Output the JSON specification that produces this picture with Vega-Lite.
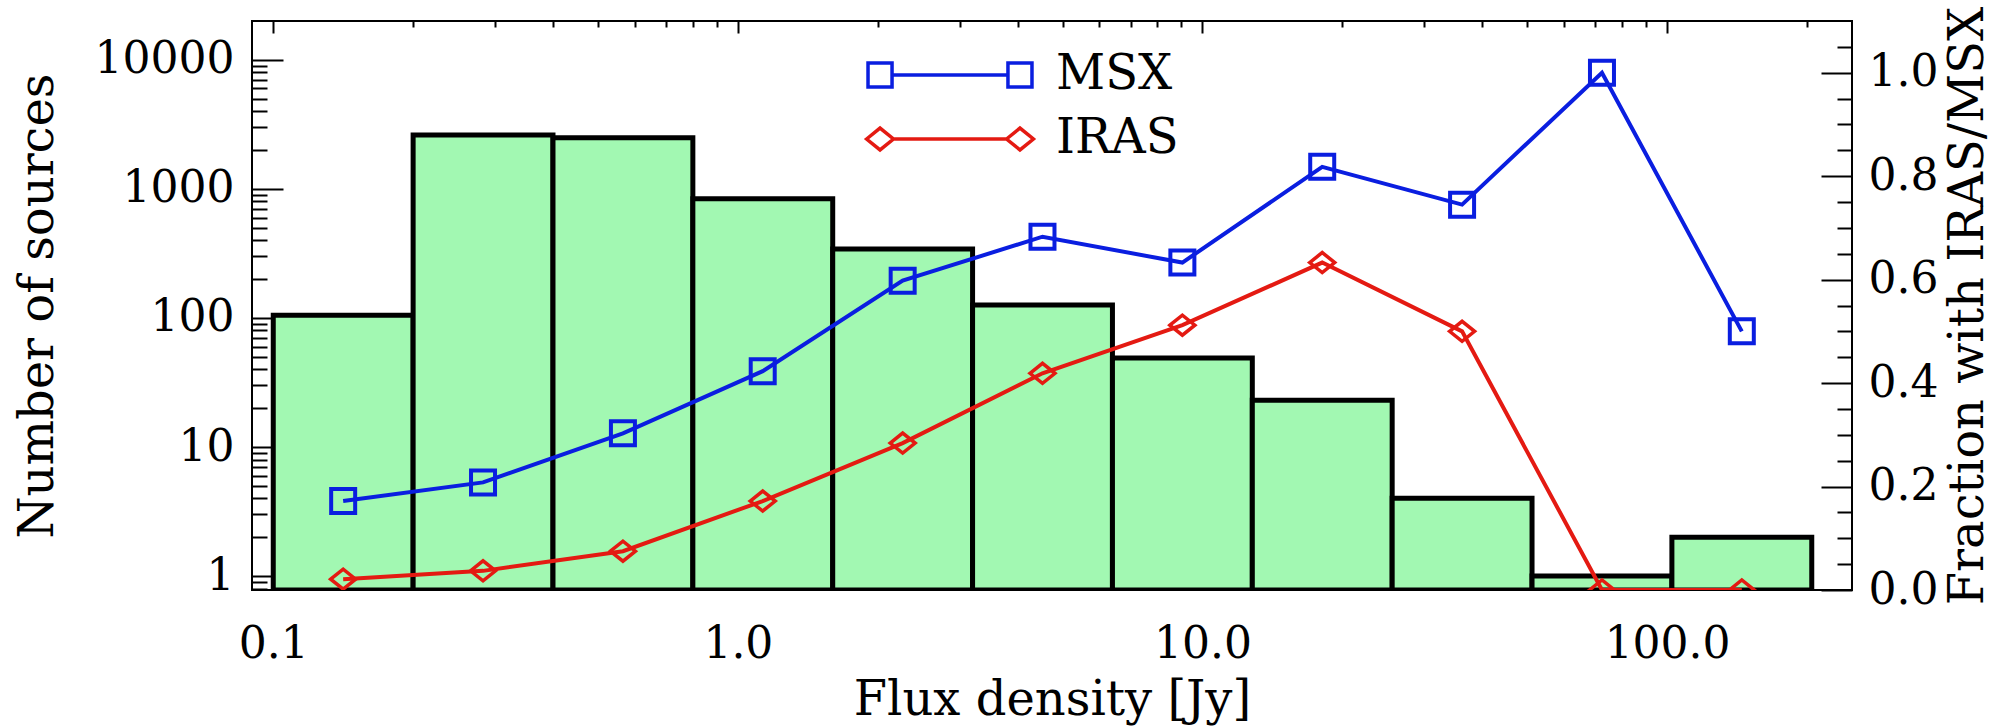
{
  "$schema": "https://vega.github.io/schema/vega-lite/v6.json",
  "width": 1600,
  "height": 569,
  "autosize": {"type": "none"},
  "padding": {"left": 252, "top": 21, "right": 157, "bottom": 137},
  "background": "white",
  "config": {
    "view": {"stroke": "black", "strokeWidth": 2},
    "axis": {
      "domain": false, "grid": false,
      "labelFont": "DejaVu Serif", "labelFontSize": 44, "labelColor": "black",
      "titleFont": "DejaVu Serif", "titleFontSize": 48, "titleFontWeight": "normal", "titleColor": "black",
      "tickColor": "black", "tickWidth": 2
    },
    "legend": {
      "orient": "none", "title": null, "direction": "vertical",
      "labelFont": "DejaVu Serif", "labelFontSize": 48, "labelColor": "black",
      "symbolSize": 28224, "symbolStrokeWidth": 3.5, "symbolOpacity": 1,
      "labelOffset": 20, "padding": 0
    }
  },
  "datasets": {
    "bars": [
      {"lo": 0.1, "hi": 0.2, "count": 105},
      {"lo": 0.2, "hi": 0.4, "count": 2620},
      {"lo": 0.4, "hi": 0.8, "count": 2490},
      {"lo": 0.8, "hi": 1.6, "count": 840},
      {"lo": 1.6, "hi": 3.2, "count": 343},
      {"lo": 3.2, "hi": 6.4, "count": 126},
      {"lo": 6.4, "hi": 12.8, "count": 49},
      {"lo": 12.8, "hi": 25.6, "count": 23},
      {"lo": 25.6, "hi": 51.2, "count": 4},
      {"lo": 51.2, "hi": 102.4, "count": 1},
      {"lo": 102.4, "hi": 204.8, "count": 2}
    ],
    "lines": [
      {"x": 0.1414, "frac": 0.172, "series": "MSX"},
      {"x": 0.2828, "frac": 0.208, "series": "MSX"},
      {"x": 0.5657, "frac": 0.303, "series": "MSX"},
      {"x": 1.131, "frac": 0.423, "series": "MSX"},
      {"x": 2.263, "frac": 0.598, "series": "MSX"},
      {"x": 4.525, "frac": 0.683, "series": "MSX"},
      {"x": 9.051, "frac": 0.633, "series": "MSX"},
      {"x": 18.10, "frac": 0.818, "series": "MSX"},
      {"x": 36.20, "frac": 0.745, "series": "MSX"},
      {"x": 72.41, "frac": 1.0, "series": "MSX"},
      {"x": 144.8, "frac": 0.5, "series": "MSX"},
      {"x": 0.1414, "frac": 0.021, "series": "IRAS"},
      {"x": 0.2828, "frac": 0.037, "series": "IRAS"},
      {"x": 0.5657, "frac": 0.075, "series": "IRAS"},
      {"x": 1.131, "frac": 0.172, "series": "IRAS"},
      {"x": 2.263, "frac": 0.284, "series": "IRAS"},
      {"x": 4.525, "frac": 0.419, "series": "IRAS"},
      {"x": 9.051, "frac": 0.512, "series": "IRAS"},
      {"x": 18.10, "frac": 0.633, "series": "IRAS"},
      {"x": 36.20, "frac": 0.5, "series": "IRAS"},
      {"x": 72.41, "frac": 0.0, "series": "IRAS"},
      {"x": 144.8, "frac": 0.0, "series": "IRAS"}
    ]
  },
  "layer": [
    {
      "data": {"name": "bars"},
      "mark": {"type": "rect", "fill": "#a2f8b2", "stroke": "black", "strokeWidth": 5, "clip": true},
      "encoding": {
        "x": {"field": "lo", "type": "quantitative",
          "scale": {"type": "log", "domain": [0.09, 250], "nice": false},
          "axis": {"orient": "bottom", "values": [0.1, 1, 10, 100], "format": ".1f", "tickSize": -12, "labelPadding": 44, "title": "Flux density [Jy]", "titlePadding": 10}},
        "x2": {"field": "hi"},
        "y": {"field": "count", "type": "quantitative",
          "scale": {"type": "log", "domain": [0.78, 20000], "nice": false},
          "axis": {"orient": "left", "values": [1, 10, 100, 1000, 10000], "format": "d", "tickSize": -31, "labelPadding": 49, "title": "Number of sources", "titlePadding": 32}},
        "y2": {"datum": 0.78}
      }
    },
    {
      "data": {"name": "bars"},
      "mark": {"type": "point", "opacity": 0},
      "encoding": {
        "x": {"field": "lo", "type": "quantitative",
          "scale": {"type": "log", "domain": [0.09, 250], "nice": false},
          "axis": {"orient": "bottom", "values": [0.2, 0.3, 0.4, 0.5, 0.6, 0.7, 0.8, 0.9, 2, 3, 4, 5, 6, 7, 8, 9, 20, 30, 40, 50, 60, 70, 80, 90, 200], "labels": false, "tickSize": -6, "title": null}},
        "y": {"field": "count", "type": "quantitative",
          "scale": {"type": "log", "domain": [0.78, 20000], "nice": false},
          "axis": {"orient": "left", "values": [0.8, 0.9, 2, 3, 4, 5, 6, 7, 8, 9, 20, 30, 40, 50, 60, 70, 80, 90, 200, 300, 400, 500, 600, 700, 800, 900, 2000, 3000, 4000, 5000, 6000, 7000, 8000, 9000], "labels": false, "tickSize": -15, "title": null}}
      }
    },
    {
      "data": {"name": "lines"},
      "transform": [{"filter": "datum.series === 'MSX'"}],
      "mark": {"type": "line", "color": "#0a1ee0", "strokeWidth": 4, "clip": true},
      "encoding": {
        "x": {"field": "x", "type": "quantitative",
          "scale": {"type": "log", "domain": [0.09, 250], "nice": false},
          "axis": {"orient": "top", "values": [0.1, 1, 10, 100], "labels": false, "tickSize": -12, "title": null}},
        "y": {"field": "frac", "type": "quantitative",
          "scale": {"domain": [0, 1.1], "nice": false, "zero": false},
          "axis": {"orient": "right", "values": [0, 0.2, 0.4, 0.6, 0.8, 1.0], "format": ".1f", "tickSize": -31, "labelPadding": 47, "title": "Fraction with IRAS/MSX", "titleAngle": 270, "titleBaseline": "top", "titlePadding": 7}}
      }
    },
    {
      "data": {"name": "lines"},
      "transform": [{"filter": "datum.series === 'IRAS'"}],
      "mark": {"type": "line", "color": "#e41a12", "strokeWidth": 4, "clip": true},
      "encoding": {
        "x": {"field": "x", "type": "quantitative",
          "scale": {"type": "log", "domain": [0.09, 250], "nice": false},
          "axis": {"orient": "top", "values": [0.2, 0.3, 0.4, 0.5, 0.6, 0.7, 0.8, 0.9, 2, 3, 4, 5, 6, 7, 8, 9, 20, 30, 40, 50, 60, 70, 80, 90, 200], "labels": false, "tickSize": -6, "title": null}},
        "y": {"field": "frac", "type": "quantitative",
          "scale": {"domain": [0, 1.1], "nice": false, "zero": false},
          "axis": {"orient": "right", "values": [0.05, 0.1, 0.15, 0.25, 0.3, 0.35, 0.45, 0.5, 0.55, 0.65, 0.7, 0.75, 0.85, 0.9, 0.95, 1.05], "labels": false, "tickSize": -15, "title": null}}
      }
    },
    {
      "data": {"name": "lines"},
      "transform": [{"filter": "datum.series === 'MSX'"}],
      "mark": {"type": "point", "shape": "square", "filled": false, "color": "#0a1ee0", "strokeWidth": 4, "size": 576, "opacity": 1, "clip": true},
      "encoding": {
        "x": {"field": "x", "type": "quantitative", "scale": {"type": "log", "domain": [0.09, 250], "nice": false}, "axis": null},
        "y": {"field": "frac", "type": "quantitative", "scale": {"domain": [0, 1.1], "nice": false, "zero": false}, "axis": null}
      }
    },
    {
      "data": {"name": "lines"},
      "transform": [{"filter": "datum.series === 'IRAS'"}],
      "mark": {"type": "point", "shape": "M-1,0L0,-0.8L1,0L0,0.8Z", "filled": false, "color": "#e41a12", "strokeWidth": 3.5, "size": 625, "opacity": 1, "clip": true},
      "encoding": {
        "x": {"field": "x", "type": "quantitative", "scale": {"type": "log", "domain": [0.09, 250], "nice": false}, "axis": null},
        "y": {"field": "frac", "type": "quantitative", "scale": {"domain": [0, 1.1], "nice": false, "zero": false}, "axis": null}
      }
    },
    {
      "data": {"name": "lines"},
      "transform": [{"filter": "false"}],
      "mark": {"type": "point", "filled": false},
      "encoding": {
        "x": {"field": "x", "type": "quantitative", "scale": {"type": "log", "domain": [0.09, 250], "nice": false}, "axis": null},
        "y": {"field": "frac", "type": "quantitative", "scale": {"domain": [0, 1.1], "nice": false, "zero": false}, "axis": null},
        "color": {"field": "series", "type": "nominal",
          "scale": {"domain": ["MSX"], "range": ["#0a1ee0"]},
          "legend": {"legendX": 612, "legendY": -32,
            "symbolType": "M-0.69,0L0.69,0M-0.976,-0.143L-0.69,-0.143L-0.69,0.143L-0.976,0.143ZM0.69,-0.143L0.976,-0.143L0.976,0.143L0.69,0.143Z"}}
      }
    },
    {
      "data": {"name": "lines"},
      "transform": [{"filter": "false"}],
      "mark": {"type": "point", "filled": false},
      "encoding": {
        "x": {"field": "x", "type": "quantitative", "scale": {"type": "log", "domain": [0.09, 250], "nice": false}, "axis": null},
        "y": {"field": "frac", "type": "quantitative", "scale": {"domain": [0, 1.1], "nice": false, "zero": false}, "axis": null},
        "stroke": {"field": "series", "type": "nominal",
          "scale": {"domain": ["IRAS"], "range": ["#e41a12"]},
          "legend": {"legendX": 612, "legendY": 32,
            "symbolType": "M-0.673,0L0.673,0M-0.993,0L-0.833,-0.13L-0.673,0L-0.833,0.13ZM0.673,0L0.833,-0.13L0.993,0L0.833,0.13Z"}}
      }
    }
  ],
  "resolve": {
    "scale": {"x": "independent", "y": "independent"},
    "axis": {"x": "independent", "y": "independent"}
  }
}
